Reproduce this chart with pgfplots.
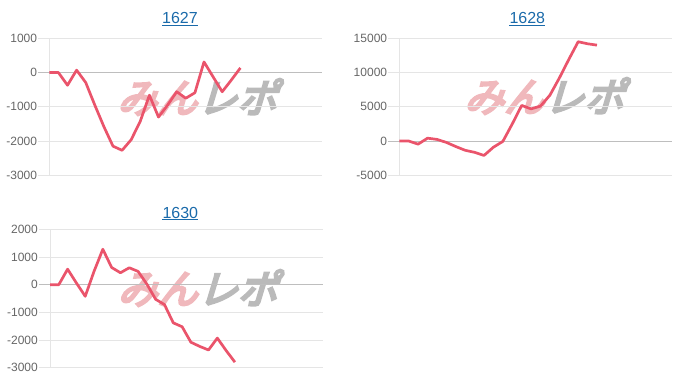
\documentclass[border=0pt]{standalone}
\usepackage{fontspec}
\setmainfont{Liberation Sans}
\newfontfamily\cjk{Noto Sans CJK JP}[FakeSlant=0.3,FakeBold=6]
\usepackage{pgfplots}
\pgfplotsset{compat=1.18}
\definecolor{linered}{RGB}{234,84,107}
\definecolor{gridgray}{RGB}{229,229,229}
\definecolor{zerogray}{RGB}{190,190,190}
\definecolor{ticktext}{RGB}{102,102,102}
\definecolor{titleblue}{RGB}{26,106,170}
\definecolor{wmpink}{RGB}{240,184,188}
\definecolor{wmgray}{RGB}{186,186,186}
\pgfplotsset{panel/.style={
  scale only axis, width=273pt, height=137pt,
  axis x line=none, axis y line=left,
  axis line style={draw=gridgray,-},
  xtick=\empty,
  enlargelimits=false,
  scaled y ticks=false,
  ymajorgrids, grid style={gridgray, line width=0.8pt},
  tick align=outside, major tick length=11pt,
  tick style={gridgray, line width=0.8pt},
  extra y ticks={0},
  extra y tick style={grid style={zerogray, line width=0.8pt}, tick style={zerogray, line width=0.8pt}},
  yticklabel style={font=\fontsize{12}{14}\selectfont, text=ticktext, inner xsep=1pt},
  /pgf/number format/1000 sep={},
  /pgf/number format/assume math mode=true,
}, series/.style={linered, line width=2.7pt, line join=round, no marks}}
\newcommand{\wm}{\cjk\fontsize{40}{40}\selectfont\textcolor{wmpink}{みん}\textcolor{wmgray}{レポ}}
\begin{document}
\begin{tikzpicture}[x=1pt,y=1pt]
\useasboundingbox (0,0) rectangle (700,386);
% watermarks
\node at (197,289) {\wm};
\node at (544,290) {\wm};
\node at (197.5,98) {\wm};
% titles
\node[titleblue, font=\fontsize{16}{18}\selectfont, inner sep=0, anchor=base] (t1) at (180,362) {1627};
\draw[titleblue, line width=1.1pt] ([yshift=-1.8pt]t1.base west) -- ([yshift=-1.8pt]t1.base east);
\node[titleblue, font=\fontsize{16}{18}\selectfont, inner sep=0, anchor=base] (t2) at (527.3,362) {1628};
\draw[titleblue, line width=1.1pt] ([yshift=-1.8pt]t2.base west) -- ([yshift=-1.8pt]t2.base east);
\node[titleblue, font=\fontsize{16}{18}\selectfont, inner sep=0, anchor=base] (t3) at (180.3,168) {1630};
\draw[titleblue, line width=1.1pt] ([yshift=-1.8pt]t3.base west) -- ([yshift=-1.8pt]t3.base east);

\begin{axis}[panel, at={(49.3pt,210.7pt)}, anchor=south west,
  xmin=0, xmax=30, ymin=-3000, ymax=1000,
  ytick={-3000,-2000,-1000,1000}]
\addplot[series] coordinates {(0,0) (1,0) (2,-370) (3,70) (4,-290) (5,-950) (6,-1580) (7,-2150) (8,-2270) (9,-1960) (10,-1420) (11,-660) (12,-1300) (13,-950) (14,-560) (15,-750) (16,-590) (17,310) (18,-125) (19,-560) (20,-220) (21,135)};
\end{axis}

\begin{axis}[panel, at={(399.3pt,210.7pt)}, anchor=south west,
  xmin=0, xmax=29, ymin=-5000, ymax=15000,
  ytick={-5000,5000,10000,15000}]
\addplot[series] coordinates {(0,0) (1,0) (2,-450) (3,420) (4,240) (5,-200) (6,-800) (7,-1350) (8,-1650) (9,-2100) (10,-900) (11,-50) (12,2500) (13,5200) (14,4700) (15,5100) (16,6700) (17,9200) (18,11900) (19,14500) (20,14200) (21,14000)};
\end{axis}

\begin{axis}[panel, at={(50pt,18.3pt)}, anchor=south west, height=138.4pt,
  xmin=0, xmax=31, ymin=-3000, ymax=2000,
  ytick={-3000,-2000,-1000,1000,2000}]
\addplot[series] coordinates {(0,0) (1,0) (2,560) (3,60) (4,-420) (5,480) (6,1280) (7,620) (8,430) (9,610) (10,480) (11,20) (12,-530) (13,-720) (14,-1380) (15,-1520) (16,-2080) (17,-2230) (18,-2360) (19,-1930) (20,-2380) (21,-2800)};
\end{axis}
\end{tikzpicture}
\end{document}
